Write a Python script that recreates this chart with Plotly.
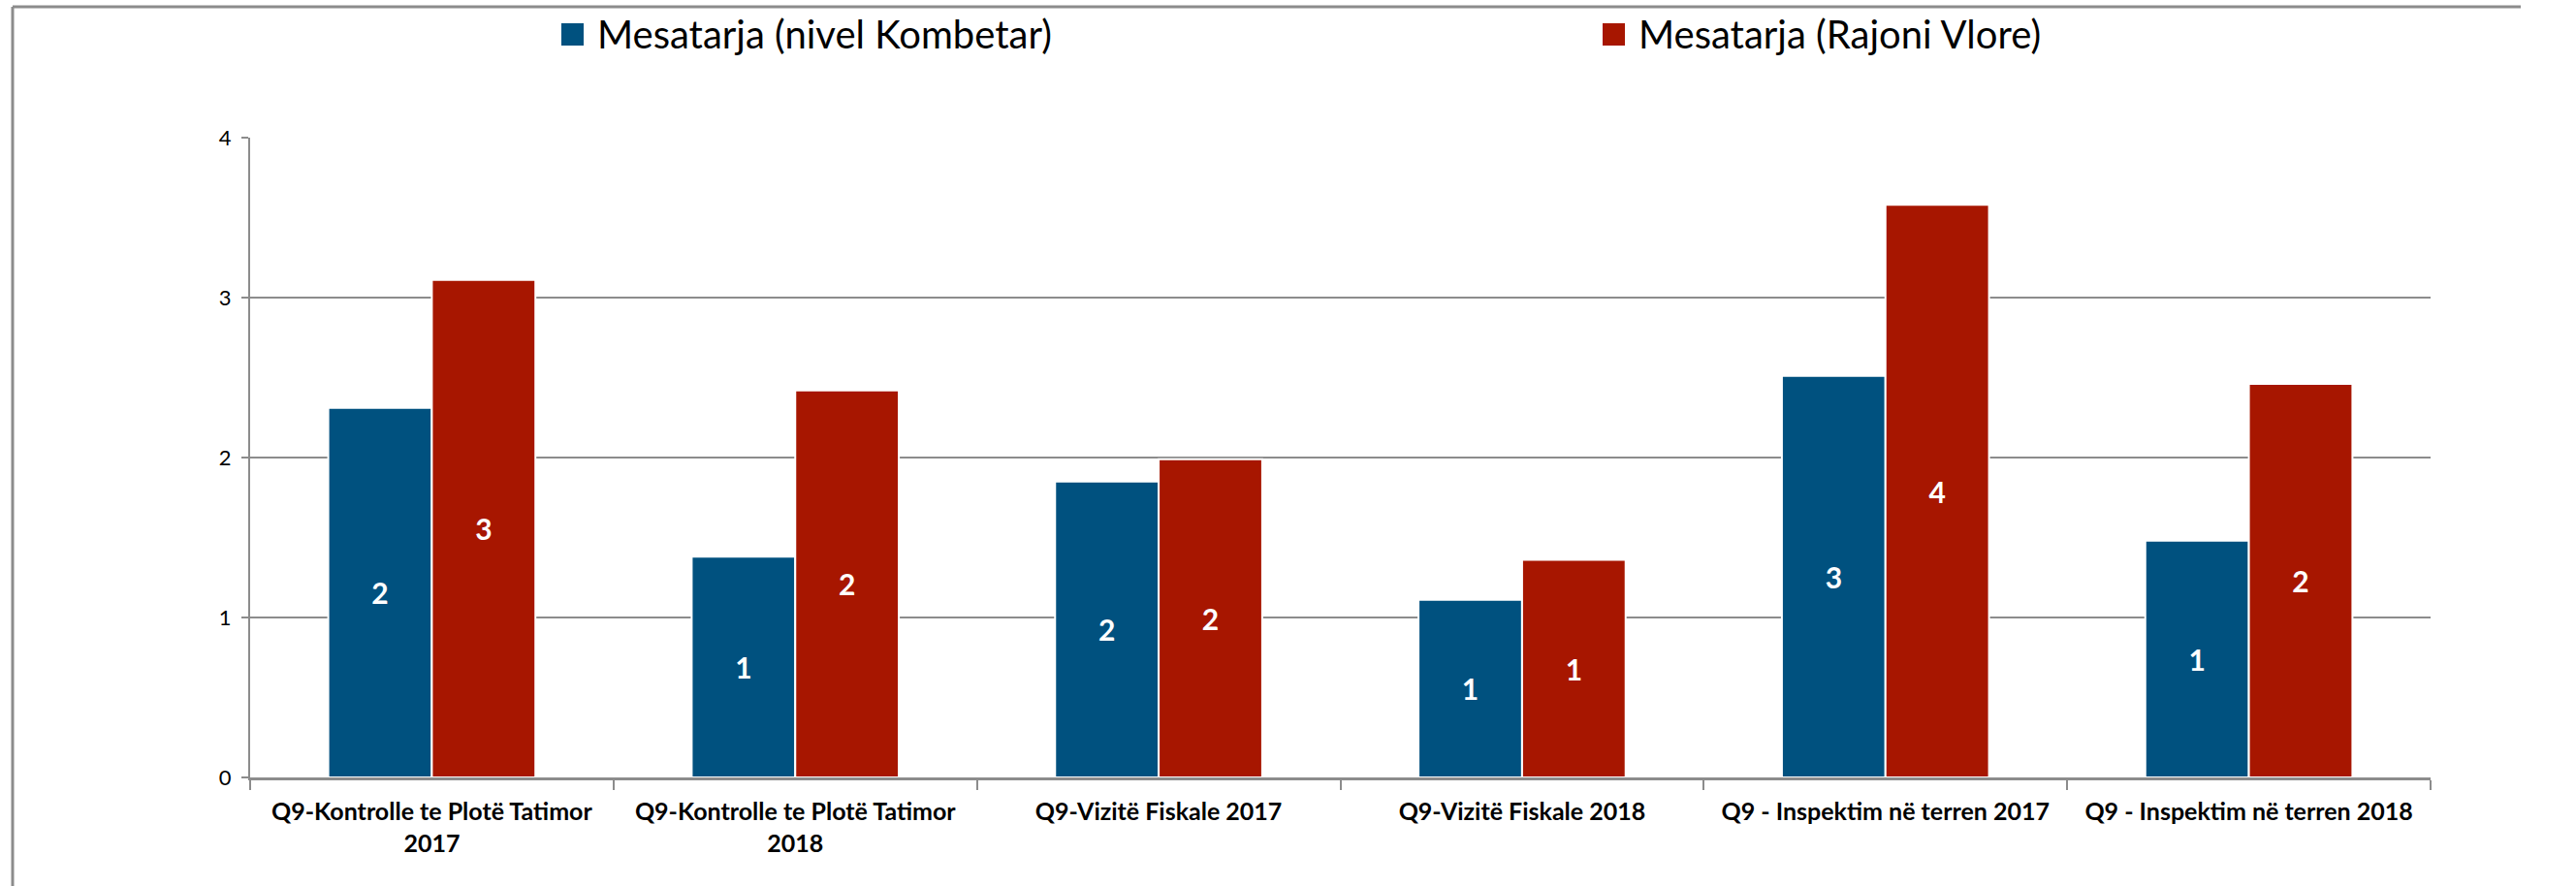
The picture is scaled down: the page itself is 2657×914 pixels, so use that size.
import plotly.graph_objects as go

# data
categories = [
    "Q9-Kontrolle te Plotë Tatimor<br>2017",
    "Q9-Kontrolle te Plotë Tatimor<br>2018",
    "Q9-Vizitë Fiskale 2017",
    "Q9-Vizitë Fiskale 2018",
    "Q9 - Inspektim në terren 2017",
    "Q9 - Inspektim në terren 2018",
]
kombetar = [2.31, 1.38, 1.85, 1.11, 2.51, 1.48]
vlore = [3.11, 2.42, 1.99, 1.36, 3.58, 2.46]
series_names = ["Mesatarja (nivel Kombetar)", "Mesatarja (Rajoni Vlore)"]
y_ticks = [0, 1, 2, 3, 4]

BLUE = "#00517f"
RED = "#a71600"
GRID = "#8c8c8c"
FONT = "Lato, 'Open Sans', sans-serif"

W, H = 2657, 914
L, R, T, B = 258, 150, 142, 112
PW, PH = W - L - R, H - T - B


def px_x(px):
    return (px - L) / PW


def px_y(py):
    return (H - B - py) / PH


fig = go.Figure()
for name, vals, col in [(series_names[0], kombetar, BLUE), (series_names[1], vlore, RED)]:
    fig.add_trace(go.Bar(
        x=categories, y=vals, name=name,
        marker=dict(color=col, line=dict(color="white", width=2)),
        texttemplate="%{y:.0f}", textposition="inside",
        insidetextanchor="middle", textangle=0, constraintext="none",
        textfont=dict(color="white", size=30, family=FONT, weight="bold"),
        showlegend=False,
    ))

# manual legend (big squares like the original)
legend_items = [(579, 614, BLUE, series_names[0]), (1653, 1688, RED, series_names[1])]
shapes = []
annotations = []
for sq_x, tx_x, col, name in legend_items:
    shapes.append(dict(type="rect", xref="paper", yref="paper",
                       x0=px_x(sq_x), x1=px_x(sq_x + 23), y0=px_y(47), y1=px_y(24),
                       fillcolor=col, line=dict(width=0)))
    annotations.append(dict(text=name, xref="paper", yref="paper",
                            x=px_x(tx_x), y=px_y(35), xanchor="left", yanchor="middle",
                            showarrow=False, font=dict(size=40, family=FONT, color="black")))

# outer chart frame: only top and left edges are visible in the original
shapes.append(dict(type="line", xref="paper", yref="paper",
                   x0=px_x(13), x1=px_x(2600), y0=px_y(7), y1=px_y(7),
                   line=dict(color=GRID, width=3), layer="below"))
shapes.append(dict(type="line", xref="paper", yref="paper",
                   x0=px_x(13), x1=px_x(13), y0=px_y(7), y1=px_y(H),
                   line=dict(color=GRID, width=3), layer="below"))

fig.update_layout(
    width=W, height=H,
    margin=dict(l=L, r=R, t=T, b=B, autoexpand=False),
    paper_bgcolor="white", plot_bgcolor="white",
    barmode="group", bargap=0.43, bargroupgap=0.0,
    font=dict(family=FONT, color="black"),
    shapes=shapes, annotations=annotations,
    xaxis=dict(
        tickson="boundaries", ticks="outside", ticklen=10, tickwidth=2, tickcolor=GRID,
        showline=True, linecolor=GRID, linewidth=3, showgrid=False,
        tickfont=dict(size=25, family=FONT, weight="bold", color="black"),
        ticklabelstandoff=11,
    ),
    yaxis=dict(
        range=[0, 4], tickvals=y_ticks, ticks="outside", ticklen=7, tickwidth=2,
        tickcolor=GRID, showline=True, linecolor=GRID, linewidth=2,
        showgrid=True, gridcolor=GRID, gridwidth=2, zeroline=False,
        tickfont=dict(size=22, family=FONT, color="black"),
        ticklabelstandoff=6,
    ),
)

fig.write_html("out.html", config={"displayModeBar": False},
               post_script="document.body.style.margin='0';document.body.style.overflow='hidden';")
